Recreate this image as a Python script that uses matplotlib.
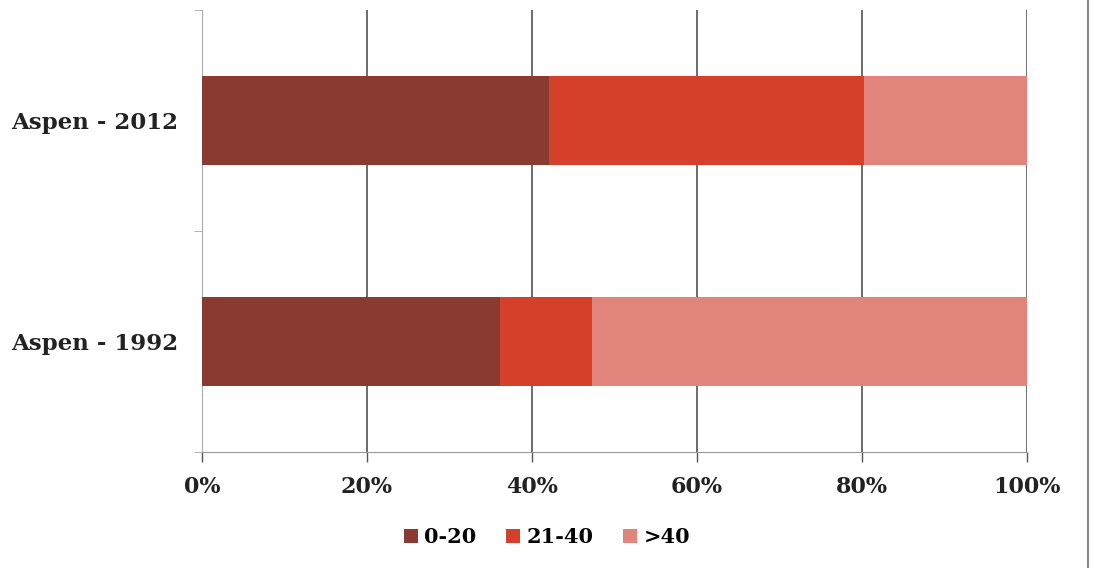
import matplotlib.pyplot as plt
from matplotlib.patches import Patch

categories = ['Aspen - 1992', 'Aspen - 2012']
series_names = ['0-20', '21-40', '>40']
share_0_20 = [36.1, 42.1]
share_21_40 = [11.2, 38.1]
share_over_40 = [52.7, 19.8]
xtick_vals = [0, 20, 40, 60, 80, 100]
xtick_labels = ['0%', '20%', '40%', '60%', '80%', '100%']

colors = ['#8a3a30', '#d4402a', '#e0847c']
font = {'family': 'DejaVu Serif', 'weight': 'bold', 'color': '#222222'}

fig = plt.figure(figsize=(10.94, 5.68), dpi=100)
ax = fig.add_axes([0.1846, 0.2042, 0.7541, 0.7782])

ypos = list(range(len(categories)))
left = [0] * len(categories)
for vals, c in zip([share_0_20, share_21_40, share_over_40], colors):
    ax.barh(ypos, vals, left=left, height=0.4, color=c, edgecolor='none', zorder=3)
    left = [l + v for l, v in zip(left, vals)]

ax.set_xlim(0, 100)
ax.set_ylim(-0.5, 1.5)

ax.set_xticks(xtick_vals)
ax.set_xticklabels(xtick_labels, fontdict=font, fontsize=16)
ax.set_yticks(ypos)
ax.set_yticklabels(categories, fontdict=font, fontsize=16.5)
ax.set_yticks([-0.5, 0.5, 1.5], minor=True)

ax.tick_params(axis='x', length=7, width=1, color='#555555', pad=10)
ax.tick_params(axis='y', which='major', length=0, pad=17)
ax.tick_params(axis='y', which='minor', length=6, color='#aaaaaa')

ax.grid(axis='x', color='#444444', linewidth=1.1, zorder=0)
for side in ['top', 'right']:
    ax.spines[side].set_visible(False)
ax.spines['left'].set_color('#aaaaaa')
ax.spines['bottom'].set_color('#999999')

handles = [Patch(facecolor=c, label=n) for c, n in zip(colors, series_names)]
fig.legend(handles=handles, loc='center', bbox_to_anchor=(0.5, 0.054), ncol=3,
           frameon=False, handlelength=0.7, handleheight=0.7, handletextpad=0.3,
           columnspacing=1.4, prop={'family': 'DejaVu Serif', 'weight': 'bold', 'size': 15})

# thin frame line on the right edge
fig.add_artist(plt.Line2D([0.9945, 0.9945], [0.0, 1.0], color='#888888', linewidth=1.5))

fig.savefig('out.png', dpi=100)
